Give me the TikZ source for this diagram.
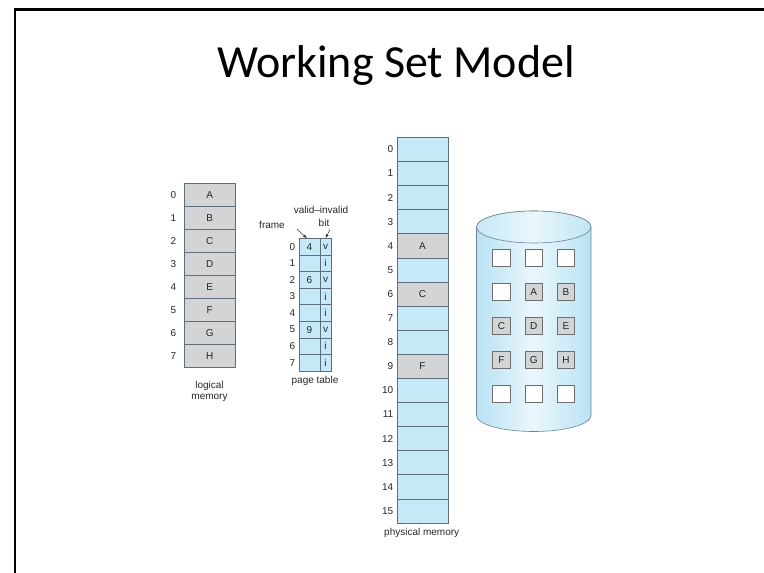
\documentclass[tikz,border=0pt]{standalone}
\usepackage{fontspec}
\setmainfont{Liberation Sans}
\newfontfamily\titlefont{Carlito}
\usetikzlibrary{arrows.meta}
\definecolor{memblue}{HTML}{C6E9F8}
\definecolor{memgray}{HTML}{D3D4D6}
\definecolor{memline}{HTML}{5E6E7C}
\definecolor{cylline}{HTML}{6C8494}
\definecolor{cylblue}{HTML}{B9E2F4}
\definecolor{cyllight}{HTML}{EAF7FC}
\definecolor{sqline}{HTML}{6E6E6E}
\begin{document}
\begin{tikzpicture}[x=1pt,y=-1pt,
  lbl/.style={font=\fontsize{10}{11.5}\selectfont, inner sep=0pt, text=black!85},
  cell/.style={draw=memline, line width=0.6pt, inner sep=0pt, outer sep=0pt,
    font=\fontsize{10}{12}\selectfont, text=black!85},
  lmcell/.style={cell, fill=memgray, minimum width=50.5pt, minimum height=23pt},
  ptfcell/.style={cell, fill=memblue, minimum width=21pt, minimum height=16.6pt},
  ptvcell/.style={cell, fill=memblue, minimum width=11pt, minimum height=16.6pt},
  pmcell/.style={cell, minimum width=51pt, minimum height=24.1pt},
  sq/.style={draw=sqline, line width=0.6pt, fill=white, minimum size=17.5pt,
    inner sep=0pt, font=\fontsize{10}{12}\selectfont, text=black!85},
  sqg/.style={sq, fill=memgray},
  arr/.style={-{Latex[length=4pt,width=3pt]}, line width=0.5pt, draw=black!80}
]
\useasboundingbox (0,0) rectangle (764,573);
% slide frame
\draw[line width=2.4pt] (15,573) -- (15,9.5) -- (764,9.5);
% title
\node[font=\titlefont\fontsize{46}{54}\selectfont, anchor=base] (title) at (396,77) {Working Set Model};

% logical memory
\foreach \l [count=\i from 0] in {A,B,C,D,E,F,G,H} {
  \node[lmcell] (lm\i) at (209.75,{195+23*\i}) {\l};
  \node[lbl, anchor=east] (lmn\i) at (176.5,{195+23*\i}) {\i};
}
\node[lbl, align=center, anchor=north] (lmcap) at (209.5,381) {logical\\memory};

% page table
\foreach \f/\v [count=\i from 0] in {4/v,{}/i,6/v,{}/i,{}/i,9/v,{}/i,{}/i} {
  \node[ptfcell] (ptf\i) at (309.5,{246.6+16.6*\i}) {\f};
  \node[ptvcell] (ptv\i) at (325.5,{246.6+16.6*\i}) {\v};
  \node[lbl, anchor=east] (ptn\i) at (295.5,{246.6+16.6*\i}) {\i};
}
\node[lbl] (ptcap) at (315,381) {page table};
\node[lbl] (framelbl) at (272,225) {frame};
\node[lbl] (validlbl) at (321,209.5) {valid--invalid};
\node[lbl] (bitlbl) at (324,223) {bit};
\coordinate (fa) at (297,229);
\coordinate (va) at (330,229.5);
\draw[arr] (fa) -- ([xshift=-2.5pt]ptf0.north);
\draw[arr] (va) -- (ptv0.north);

% physical memory
\foreach \i/\l/\c in {0/{}/memblue,1/{}/memblue,2/{}/memblue,3/{}/memblue,
    4/A/memgray,5/{}/memblue,6/C/memgray,7/{}/memblue,8/{}/memblue,9/F/memgray,
    10/{}/memblue,11/{}/memblue,12/{}/memblue,13/{}/memblue,14/{}/memblue,15/{}/memblue} {
  \node[pmcell, fill=\c] (pm\i) at (422.5,{149.35+24.1*\i}) {\l};
  \node[lbl, anchor=east] (pmn\i) at (393.5,{149.35+24.1*\i}) {\i};
}
\node[lbl] (pmcap) at (421.7,532.7) {physical memory};

% disk cylinder
\path[draw=cylline, line width=0.6pt, left color=cylblue, right color=cylblue, middle color=cyllight]
  (476.5,227) -- (476.5,415.5)
  arc[start angle=180, end angle=360, x radius=57.25pt, y radius=16pt]
  -- (591,227)
  arc[start angle=0, end angle=180, x radius=57.25pt, y radius=16pt] -- cycle;
\path[draw=cylline, line width=0.6pt, left color=cylblue!80, right color=cylblue!90, middle color=cyllight]
  (533.75,227) ellipse [x radius=57.25pt, y radius=16pt];

% disk blocks
\node[sq]  (d00) at (501.5,258) {};
\node[sq]  (d01) at (533.75,258) {};
\node[sq]  (d02) at (566,258) {};
\node[sq]  (d10) at (501.5,292) {};
\node[sqg] (d11) at (533.75,292) {A};
\node[sqg] (d12) at (566,292) {B};
\node[sqg] (d20) at (501.5,326) {C};
\node[sqg] (d21) at (533.75,326) {D};
\node[sqg] (d22) at (566,326) {E};
\node[sqg] (d30) at (501.5,360) {F};
\node[sqg] (d31) at (533.75,360) {G};
\node[sqg] (d32) at (566,360) {H};
\node[sq]  (d40) at (501.5,394) {};
\node[sq]  (d41) at (533.75,394) {};
\node[sq]  (d42) at (566,394) {};
\end{tikzpicture}
\end{document}
